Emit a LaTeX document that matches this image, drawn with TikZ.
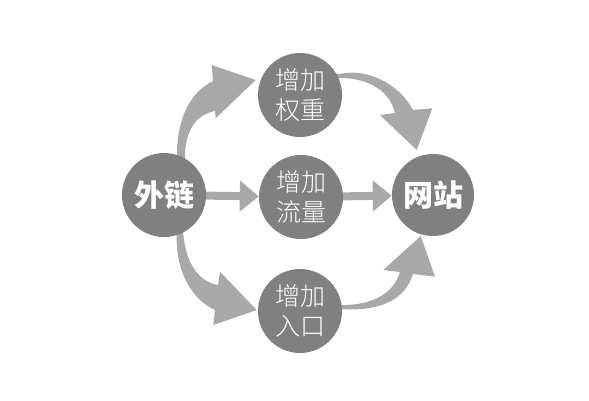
\documentclass[tikz,border=0pt]{standalone}
\usepackage{fontspec}
\newfontfamily\cjk{Noto Sans CJK SC}
\newfontfamily\cjklight{Noto Sans CJK SC Light}
\usetikzlibrary{arrows.meta}
\definecolor{circgray}{RGB}{128,128,128}
\definecolor{arrgray}{RGB}{168,168,168}
\begin{document}
\begin{tikzpicture}[x=1pt,y=-1pt,
  circ/.style={circle,fill=circgray,minimum size=84pt,inner sep=0pt,text=white,align=center},
  small/.style={circ,font=\cjklight\fontsize{25}{30}\selectfont},
  big/.style={circ,font=\cjk\bfseries\fontsize{30}{36}\selectfont},
  blockarrow/.style={fill=arrgray,draw=none},
  midarrow/.style={draw=arrgray,line width=8pt,-{Triangle[length=19pt,width=30pt]}}]
\useasboundingbox (0,0) rectangle (589,400);
% curved block arrows (drawn beneath the circles)
\path[blockarrow] (177,165) -- (177,152) .. controls (178,116) and (191,92) .. (213,81)
  -- (211.7,65) -- (255.7,80) -- (215.7,118.3) -- (215,111)
  .. controls (200,114) and (187,125) .. (185,152) -- (185,165) -- cycle;
\path[blockarrow] (332,73) -- (340,74) .. controls (365,68) and (398,82) .. (413,110)
  -- (432.3,108.3) -- (416.7,150) -- (380,115) -- (395,113)
  .. controls (390,92) and (370,78) .. (340,78) -- (332,79) -- cycle;
\path[blockarrow] (177,220) -- (177,230) .. controls (174,270) and (192,300) .. (215,310)
  -- (213.3,325) -- (256.7,310) -- (220,271.7) -- (218,285)
  .. controls (200,282) and (185,265) .. (183,230) -- (183,220) -- cycle;
\path[blockarrow] (330,304) -- (338,305) .. controls (370,306) and (393,295) .. (400,272)
  -- (383.3,270) -- (420.7,236) -- (435,276.7) -- (413,274)
  .. controls (405,300) and (380,312) .. (338,309) -- (330,310) -- cycle;
% circles
\node[big]   (L) at (164,195) {外链};
\node[big,minimum size=82pt] (R) at (433,195) {网站};
\node[small] (T) at (300,95)  {增加\\权重};
\node[small] (M) at (301,197) {增加\\流量};
\node[small] (B) at (300,311) {增加\\入口};
% straight arrows
\draw[midarrow] (L) -- (M);
\draw[midarrow] (M) -- (R);
\end{tikzpicture}
\end{document}
